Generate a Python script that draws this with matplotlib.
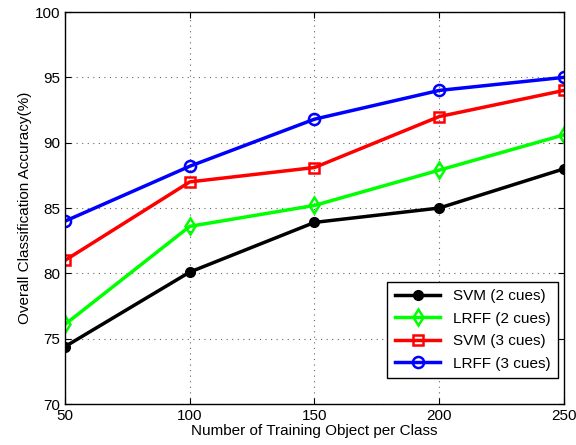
import matplotlib
matplotlib.use("Agg")
import matplotlib.pyplot as plt

objects = [50, 100, 150, 200, 250]
svm_2 = [74.4, 80.1, 83.9, 85.0, 88.0]
lrff_2 = [76.1, 83.6, 85.2, 87.9, 90.6]
svm_3 = [81.0, 87.0, 88.1, 92.0, 94.0]
lrff_3 = [84.0, 88.2, 91.8, 94.0, 95.0]

plt.rcParams['font.family'] = ['Liberation Sans', 'DejaVu Sans']

fig = plt.figure(figsize=(5.76, 4.45), dpi=100)
ax = fig.add_axes([0.113, 0.092, 0.866, 0.881])

lw = 2.5
ax.plot(objects, svm_2, color='black', lw=lw, marker='o', ms=7, mfc='black', label='SVM (2 cues)')
ax.plot(objects, lrff_2, color='#00ff00', lw=lw, marker='d', ms=8, mfc='none', mew=1.8, label='LRFF (2 cues)')
ax.plot(objects, svm_3, color='red', lw=lw, marker='s', ms=7, mfc='none', mew=1.8, label='SVM (3 cues)')
ax.plot(objects, lrff_3, color='blue', lw=lw, marker='o', ms=8, mfc='none', mew=1.8, label='LRFF (3 cues)')

ax.set_xlim(50, 250)
ax.set_ylim(70, 100)
ax.set_xticks([50, 100, 150, 200, 250])
ax.set_yticks([70, 75, 80, 85, 90, 95, 100])
ax.grid(True, linestyle=(0, (1, 4)), color='#666666', lw=0.8)
ax.tick_params(direction='in', labelsize=11, top=True, right=True, length=4)
for s in ax.spines.values():
    s.set_linewidth(1.0)

ax.set_xlabel('Number of Training Object per Class', fontsize=11, labelpad=1)
ax.set_ylabel('Overall Classification Accuracy(%)', fontsize=11, labelpad=2)

leg = ax.legend(loc='lower right', bbox_to_anchor=(0.988, 0.066), borderaxespad=0,
                fontsize=11, fancybox=False, framealpha=1, edgecolor='black',
                handlelength=3, labelspacing=0.55, borderpad=0.5)
leg.get_frame().set_linewidth(1.0)

fig.savefig('out.png', dpi=100)
